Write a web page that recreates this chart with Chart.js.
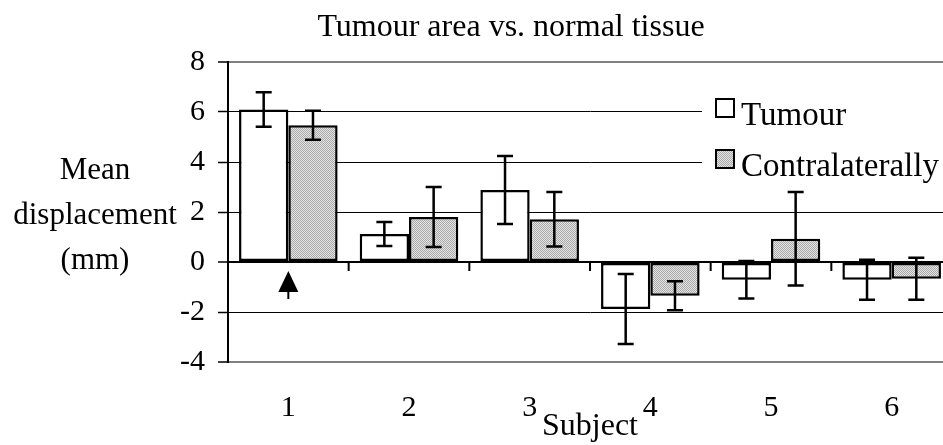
<!DOCTYPE html>
<html>
<head>
<meta charset="utf-8">
<script src="https://cdn.jsdelivr.net/npm/chart.js@4/dist/chart.umd.min.js"></script>
<style>
  html, body { margin: 0; padding: 0; background: #fff; overflow: hidden; }
  #wrap { width: 960px; height: 445px; }
</style>
</head>
<body>
<div id="wrap"><canvas id="cv" width="960" height="445"></canvas></div>
<script>
// --- datos ---
const subjects      = ["1", "2", "3", "4", "5", "6"];
const tumour        = [6.10, 1.12, 2.88, -1.88, -0.71, -0.71];
const tumourErr     = [0.69, 0.48, 1.36, 1.40, 0.75, 0.80];
const contra        = [5.47, 1.80, 1.71, -1.35, 0.93, -0.67];
const contraErr     = [0.58, 1.20, 1.09, 0.58, 1.87, 0.84];
const yMin = -4, yMax = 8, yStep = 2;
const seriesNames   = ["Tumour", "Contralaterally"];
const chartTitle    = "Tumour area vs. normal tissue";
const yTitleLines   = ["Mean", "displacement", "(mm)"];
const xTitle        = "Subject";

const FONT = "'Liberation Serif', 'Times New Roman', serif";

// relleno punteado gris (como la trama de Excel)
function makePattern() {
  const c = document.createElement("canvas");
  c.width = 2; c.height = 2;
  const g = c.getContext("2d");
  g.fillStyle = "#e4e4e4"; g.fillRect(0, 0, 2, 2);
  g.fillStyle = "#a9a9a9"; g.fillRect(0, 0, 1, 1); g.fillRect(1, 1, 1, 1);
  return g.createPattern(c, "repeat");
}
const grayFill = makePattern();

const errorBars = {
  id: "errorBars",
  afterDatasetsDraw(chart) {
    const { ctx, scales: { y } } = chart;
    const errs = [tumourErr, contraErr];
    ctx.save();
    ctx.strokeStyle = "#000";
    ctx.lineWidth = 2.5;
    chart.data.datasets.forEach((ds, di) => {
      chart.getDatasetMeta(di).data.forEach((bar, i) => {
        const v = ds.data[i], e = errs[di][i];
        const yt = y.getPixelForValue(v + e), yb = y.getPixelForValue(v - e);
        ctx.beginPath();
        ctx.moveTo(bar.x, yt); ctx.lineTo(bar.x, yb);
        ctx.moveTo(bar.x - 8, yt); ctx.lineTo(bar.x + 8, yt);
        ctx.moveTo(bar.x - 8, yb); ctx.lineTo(bar.x + 8, yb);
        ctx.stroke();
      });
    });
    ctx.restore();
  },
};

// marcas entre categorías sobre la línea del cero + flecha bajo el sujeto 1
const zeroAxis = {
  id: "zeroAxis",
  afterDatasetsDraw(chart) {
    const { ctx, scales: { x, y } } = chart;
    const y0 = y.getPixelForValue(0);
    const half = (x.getPixelForValue(1) - x.getPixelForValue(0)) / 2;
    ctx.save();
    ctx.strokeStyle = "#000";
    ctx.lineWidth = 2;
    ctx.beginPath();
    for (let i = 0; i < subjects.length; i++) {
      const bx = x.getPixelForValue(i) + half;
      ctx.moveTo(bx, y0); ctx.lineTo(bx, y0 + 9);
    }
    ctx.stroke();
    // flecha
    const ax = x.getPixelForValue(0);
    ctx.fillStyle = "#000";
    ctx.beginPath();
    ctx.moveTo(ax, y0 + 9);
    ctx.lineTo(ax + 10, y0 + 30);
    ctx.lineTo(ax - 10, y0 + 30);
    ctx.closePath();
    ctx.fill();
    ctx.beginPath();
    ctx.moveTo(ax, y0 + 29); ctx.lineTo(ax, y0 + 37);
    ctx.stroke();
    ctx.restore();
  },
};

const textos = {
  id: "textos",
  afterDraw(chart) {
    const { ctx } = chart;
    ctx.save();
    ctx.fillStyle = "#000";
    // título
    ctx.font = "32px " + FONT;
    ctx.textAlign = "center";
    ctx.textBaseline = "alphabetic";
    ctx.fillText(chartTitle, 511, 36);
    // título eje Y (horizontal, 3 líneas)
    ctx.font = "31px " + FONT;
    ctx.textBaseline = "middle";
    const y2 = chart.scales.y.getPixelForValue(2);
    yTitleLines.forEach((t, i) => ctx.fillText(t, 95, y2 + 4 + (i - 1) * 45));
    // leyenda
    ctx.fillStyle = "#fff";
    ctx.fillRect(702, 88, 260, 98);
    const fills = ["#fff", grayFill];
    ctx.textAlign = "left";
    ctx.textBaseline = "alphabetic";
    ctx.font = "33px " + FONT;
    seriesNames.forEach((name, i) => {
      const by = 99 + i * 51;
      ctx.fillStyle = fills[i];
      ctx.fillRect(716, by, 18, 18);
      ctx.strokeStyle = "#000";
      ctx.lineWidth = 2;
      ctx.strokeRect(716, by, 18, 18);
      ctx.fillStyle = "#000";
      ctx.fillText(name, 741, by + 26);
    });
    ctx.restore();
  },
};

new Chart(document.getElementById("cv"), {
  type: "bar",
  plugins: [errorBars, zeroAxis, textos],
  data: {
    labels: subjects,
    datasets: [
      { label: seriesNames[0], data: tumour, backgroundColor: "#fff", borderColor: "#000", borderWidth: 2.5, borderSkipped: false, barPercentage: 1, categoryPercentage: 0.817 },
      { label: seriesNames[1], data: contra, backgroundColor: grayFill, borderColor: "#000", borderWidth: 2.5, borderSkipped: false, barPercentage: 1, categoryPercentage: 0.817 },
    ],
  },
  options: {
    responsive: false,
    animation: false,
    layout: { padding: { left: 168, right: 8, top: 62, bottom: 0 } },
    plugins: { legend: { display: false }, tooltip: { enabled: false }, title: { display: false } },
    scales: {
      x: {
        grid: { display: false, drawTicks: false },
        border: { display: false },
        ticks: { color: "#000", font: { family: FONT, size: 30 }, padding: 28 },
        title: { display: true, text: xTitle, color: "#000", font: { family: FONT, size: 32 }, padding: { top: 0, bottom: -1 } },
        afterFit: (s) => { s.height = 83; },
      },
      y: {
        min: yMin, max: yMax,
        ticks: { stepSize: yStep, color: "#000", font: { family: FONT, size: 30 }, padding: 13 },
        grid: {
          tickLength: 10,
          color: (c) => (c.tick.value === yMax || c.tick.value === yMin) ? "#808080" : "#000",
          lineWidth: (c) => (c.tick.value === 0 || c.tick.value === yMax || c.tick.value === yMin) ? 2 : 1,
          tickColor: "#000",
          tickWidth: 1.5,
        },
        border: { display: true, color: "#000", width: 2 },
        afterFit: (s) => { s.width = 60; },
      },
    },
  },
});
</script>
</body>
</html>
